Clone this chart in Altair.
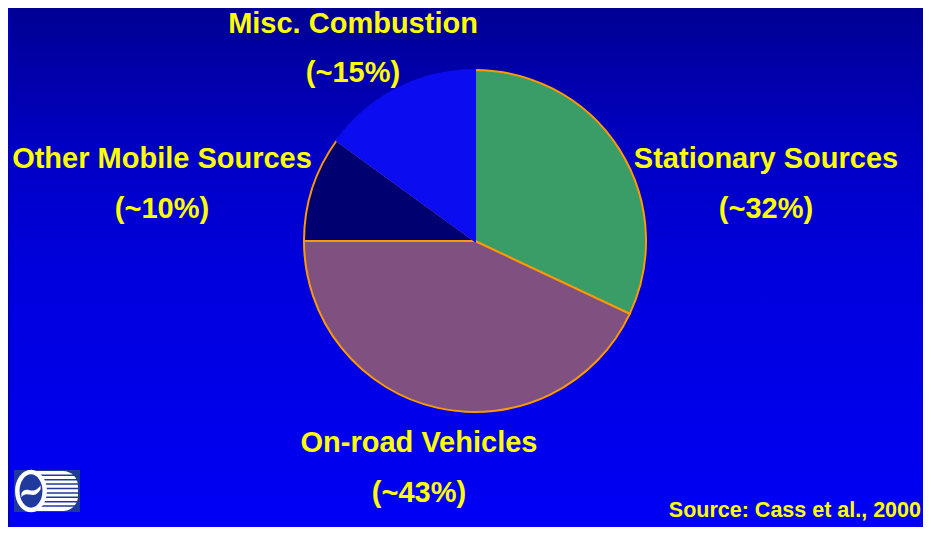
import altair as alt
import pandas as pd

# ---- data ----
categories = ["Stationary Sources", "On-road Vehicles", "Other Mobile Sources", "Misc. Combustion"]
shares = [32, 43, 10, 15]
share_labels = ["(~32%)", "(~43%)", "(~10%)", "(~15%)"]
source_note = "Source: Cass et al., 2000"

# ---- styling / layout ----
W, H = 915, 519
slice_colors = ["#3a9c66", "#7f5080", "#000070", "#0c0cf0"]
slice_strokes = ["#ff9900", "#ff9900", "#ff9900", "#0c0cf0"]
yellow = "#ffff00"
font = "Liberation Sans"
cx, cy, R = 465, 233, 171
# label anchor positions (chart pixels): name baseline, pct baseline
label_x = [756, 409, 152, 343]
name_y = [160, 444, 160, 25]
pct_y = [210, 494, 210, 74]

pie_df = pd.DataFrame({"category": categories, "share": shares, "idx": list(range(len(categories)))})
lab_df = pd.DataFrame({
    "category": categories, "pct": share_labels,
    "lx": label_x, "ny": name_y, "py": pct_y,
})
one = pd.DataFrame({"k": [0]})

bg = alt.Chart(one).mark_rect(
    color=alt.LinearGradient(
        gradient="linear",
        stops=[
            alt.GradientStop(color="#000094", offset=0),
            alt.GradientStop(color="#0000c4", offset=0.28),
            alt.GradientStop(color="#0000dc", offset=0.5),
            alt.GradientStop(color="#0000f5", offset=1),
        ],
        x1=0, x2=0, y1=0, y2=1,
    )
).encode(x=alt.value(0), x2=alt.value(W), y=alt.value(0), y2=alt.value(H))

pie = alt.Chart(pie_df).mark_arc(radius=R, strokeWidth=2).encode(
    theta=alt.Theta("share:Q", stack=True),
    order=alt.Order("idx:Q"),
    color=alt.Color("category:N", scale=alt.Scale(domain=categories, range=slice_colors), legend=None),
    stroke=alt.Stroke("category:N", scale=alt.Scale(domain=categories, range=slice_strokes), legend=None),
    x=alt.value(cx), y=alt.value(cy),
)

names = alt.Chart(lab_df).mark_text(
    font=font, fontWeight="bold", fontSize=29, color=yellow, align="center", baseline="alphabetic"
).encode(
    x=alt.X("lx:Q", scale=None), y=alt.Y("ny:Q", scale=None), text="category:N"
)
pcts = alt.Chart(lab_df).mark_text(
    font=font, fontWeight="bold", fontSize=29, color=yellow, align="center", baseline="alphabetic"
).encode(
    x=alt.X("lx:Q", scale=None), y=alt.Y("py:Q", scale=None), text="pct:N"
)
src = alt.Chart(one).mark_text(
    font=font, fontWeight="bold", fontSize=21.5, color=yellow, align="right", baseline="alphabetic"
).encode(x=alt.value(911), y=alt.value(509), text=alt.value(source_note))

# ---- logo ----
logo_navy = "#1f3a9c"
lx0, ly0 = 4, 462
logo_bg = alt.Chart(one).mark_rect(color=logo_navy).encode(
    x=alt.value(lx0), x2=alt.value(lx0 + 66), y=alt.value(ly0), y2=alt.value(ly0 + 42)
)
logo_d = alt.Chart(one).mark_rect(
    color="white", cornerRadiusTopRight=15, cornerRadiusBottomRight=15
).encode(
    x=alt.value(lx0 + 22), x2=alt.value(lx0 + 64), y=alt.value(ly0 + 1), y2=alt.value(ly0 + 41)
)
gap_layers = [
    alt.Chart(one).mark_rule(color=logo_navy, strokeWidth=1.5).encode(
        x=alt.value(lx0 + 20), x2=alt.value(lx0 + 66), y=alt.value(ly0 + 5.3 + 4.4 * i)
    )
    for i in range(8)
]
ellipse = "M -0.72 0 A 0.72 1 0 1 1 0.72 0 A 0.72 1 0 1 1 -0.72 0 Z"
ring = alt.Chart(one).mark_point(
    shape=ellipse, size=1444, filled=True, fill=logo_navy, stroke="white", strokeWidth=4.5, opacity=1
).encode(x=alt.value(lx0 + 17), y=alt.value(ly0 + 21))
wave_path = (
    "M -0.64 0.22 C -0.3 -0.4 0.1 0.45 0.64 -0.32 "
    "L 0.64 -0.05 C 0.2 0.75 -0.3 -0.05 -0.64 0.5 Z"
)
wave = alt.Chart(one).mark_point(
    shape=wave_path, size=900, filled=True, color="white", opacity=1, strokeWidth=0
).encode(x=alt.value(lx0 + 17), y=alt.value(ly0 + 20))

chart = alt.layer(
    bg, pie, names, pcts, src, logo_bg, logo_d, *gap_layers, ring, wave
).properties(
    width=W, height=H,
    autosize=alt.AutoSizeParams(type="fit", contains="padding"),
    padding=0,
).configure_view(stroke=None).configure(background="#0000c0")

chart.save("out.html", embed_options={"renderer": "svg", "actions": False})
